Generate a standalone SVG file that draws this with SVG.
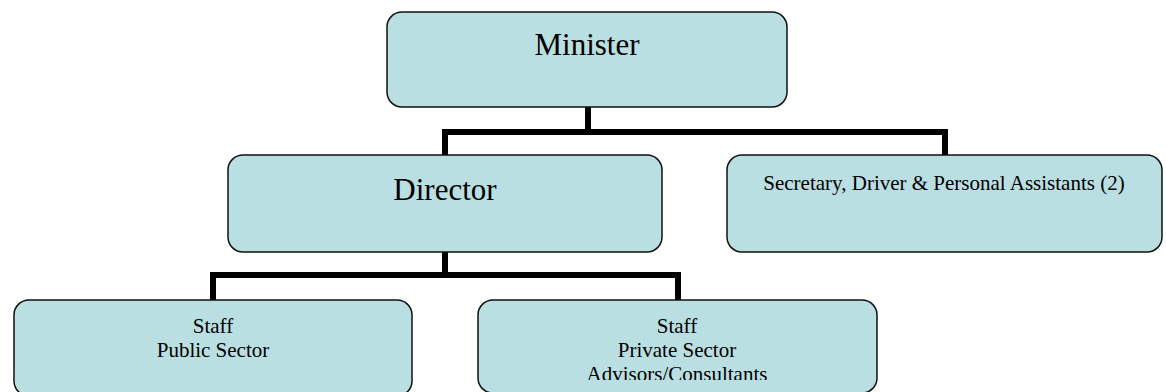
<svg xmlns="http://www.w3.org/2000/svg" width="1166" height="392" viewBox="0 0 1166 392">
  <style>
    .box { fill: #b9dfe2; stroke: #111; stroke-width: 1.5; }
    .big { font-family: "Liberation Serif", "Times New Roman", serif; font-size: 31px; fill: #000; text-anchor: middle; }
    .small { font-family: "Liberation Serif", "Times New Roman", serif; font-size: 21px; fill: #000; text-anchor: middle; }
    .link { fill: none; stroke: #000; stroke-width: 6; stroke-linejoin: miter; stroke-linecap: square; }
  </style>
  <defs>
    <clipPath id="bottom-row-text">
      <rect x="0" y="300" width="1166" height="80"/>
    </clipPath>
  </defs>
  <rect width="1166" height="392" fill="#fff"/>

  <g id="connectors">
    <path class="link" d="M588 108 V132 M445 155 V132 H945 V154"/>
    <path class="link" d="M445 253 V275 M213 299 V275 H678 V299"/>
  </g>

  <g id="minister">
    <rect class="box" x="387" y="12" width="400" height="95" rx="15"/>
    <text class="big" x="587" y="55">Minister</text>
  </g>

  <g id="director">
    <rect class="box" x="228" y="155" width="434" height="97" rx="15"/>
    <text class="big" x="445" y="200">Director</text>
  </g>

  <g id="support-staff">
    <rect class="box" x="727" y="155" width="435" height="97" rx="15"/>
    <text class="small" x="944" y="190">Secretary, Driver &amp; Personal Assistants (2)</text>
  </g>

  <g id="public-staff">
    <rect class="box" x="14" y="300" width="398" height="96" rx="15"/>
    <text class="small" x="213" y="333">Staff</text>
    <text class="small" x="213" y="357">Public Sector</text>
  </g>

  <g id="private-staff">
    <rect class="box" x="478" y="300" width="399" height="93" rx="15"/>
    <g clip-path="url(#bottom-row-text)">
      <text class="small" x="677" y="333">Staff</text>
      <text class="small" x="677" y="357">Private Sector</text>
      <text class="small" x="677" y="381">Advisors/Consultants</text>
    </g>
  </g>
</svg>
